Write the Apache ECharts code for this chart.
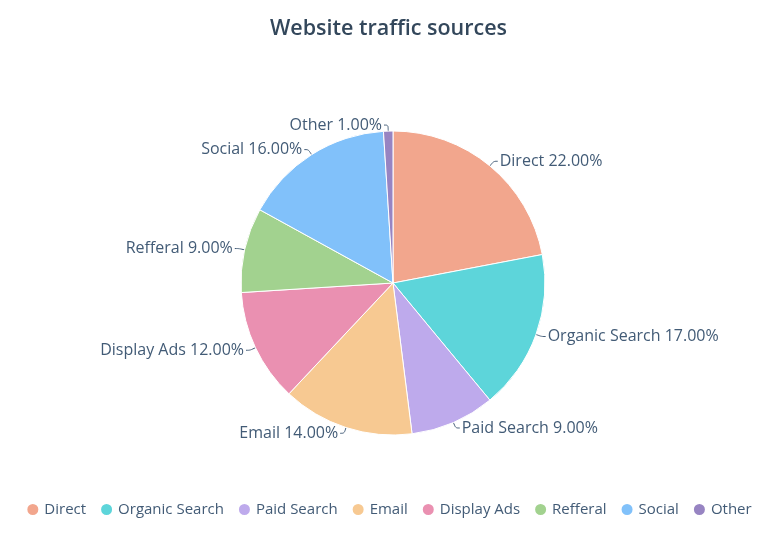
<!DOCTYPE html>
<html>
<head>
<meta charset="utf-8">
<script src="https://cdn.jsdelivr.net/npm/echarts@6/dist/echarts.min.js"></script>
<style>
  html, body { margin: 0; padding: 0; background: #fff; }
  #container { width: 777px; height: 544px; }
</style>
</head>
<body>
<div id="container"></div>
<script>
// data
var categories = ['Direct', 'Organic Search', 'Paid Search', 'Email', 'Display Ads', 'Refferal', 'Social', 'Other'];
var values = [22, 17, 9, 14, 12, 9, 16, 1];
var colors = ['#f2a68d', '#5dd5da', '#beaaec', '#f7c992', '#ea90b1', '#a2d28f', '#81c1fa', '#9784c2'];

var total = values.reduce(function (a, b) { return a + b; }, 0);

var myChart = echarts.init(document.getElementById('container'));
var option = {
    color: colors,
    textStyle: { fontFamily: '"Open Sans", sans-serif' },
    title: {
        text: 'Website traffic sources',
        left: 'center',
        top: 13,
        textStyle: { fontSize: 21.5, fontWeight: 600, color: '#33475b', fontFamily: '"Open Sans", sans-serif' }
    },
    legend: {
        bottom: 22,
        left: 'center',
        icon: 'circle',
        itemWidth: 13,
        itemHeight: 13,
        itemGap: 13,
        textStyle: { fontSize: 15, color: '#425b76' },
        data: categories
    },
    series: [{
        name: 'Website traffic sources',
        type: 'pie',
        radius: 152,
        center: [393, 283],
        startAngle: 90,
        data: categories.map(function (c, i) { return { name: c, value: values[i] }; }),
        itemStyle: { borderColor: '#fff', borderWidth: 1 },
        label: {
            formatter: function (p) {
                return p.name + ' ' + (p.value / total * 100).toFixed(2) + '%';
            },
            fontSize: 16,
            color: '#425b76',
            distanceToLabelLine: 2
        },
        labelLine: {
            length: 6,
            length2: 4,
            smooth: true,
            lineStyle: { color: '#425b76', width: 1 }
        }
    }]
};
myChart.setOption(option, true);
</script>
</body>
</html>
